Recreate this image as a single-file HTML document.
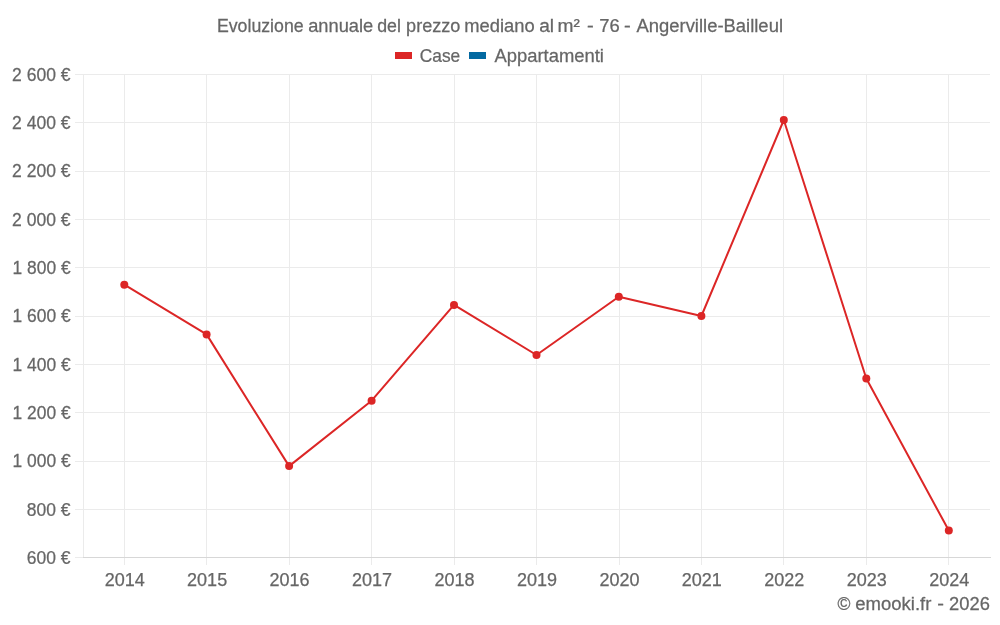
<!DOCTYPE html>
<html><head><meta charset="utf-8"><title>Evoluzione annuale del prezzo mediano al m² - 76 - Angerville-Bailleul</title>
<style>
html,body{margin:0;padding:0;background:#fff;width:1000px;height:625px;overflow:hidden}
svg{display:block;will-change:transform}
text{font-family:"Liberation Sans",sans-serif;font-size:18px;fill:#666;stroke:#666;stroke-width:0.25px}
</style></head><body>
<svg width="1000" height="625" viewBox="0 0 1000 625">
<rect width="1000" height="625" fill="#fff"/>
<path d="M75 74.5H990 M75 122.5H990 M75 171.5H990 M75 219.5H990 M75 267.5H990 M75 316.5H990 M75 364.5H990 M75 412.5H990 M75 461.5H990 M75 509.5H990 M124.5 74V565 M206.5 74V565 M289.5 74V565 M371.5 74V565 M454.5 74V565 M536.5 74V565 M619.5 74V565 M701.5 74V565 M783.5 74V565 M866.5 74V565 M948.5 74V565 M83.5 74V557" stroke="#ebebeb" stroke-width="1" fill="none" shape-rendering="crispEdges"/>
<path d="M75 557.5H83" stroke="#ebebeb" stroke-width="1" shape-rendering="crispEdges"/>
<path d="M83 557.5H991" stroke="#d7d7d7" stroke-width="1" shape-rendering="crispEdges"/>
<path d="M124.3 284.7 L206.6 334.4 L289.1 466.1 L371.6 400.7 L454.0 304.9 L536.5 355.0 L618.8 296.8 L701.4 316.0 L783.8 120.0 L866.3 378.5 L948.8 530.6" stroke="#dc2626" stroke-width="2" fill="none" stroke-linejoin="round"/>
<circle cx="124.3" cy="284.7" r="4" fill="#dc2626"/>
<circle cx="206.6" cy="334.4" r="4" fill="#dc2626"/>
<circle cx="289.1" cy="466.1" r="4" fill="#dc2626"/>
<circle cx="371.6" cy="400.7" r="4" fill="#dc2626"/>
<circle cx="454.0" cy="304.9" r="4" fill="#dc2626"/>
<circle cx="536.5" cy="355.0" r="4" fill="#dc2626"/>
<circle cx="618.8" cy="296.8" r="4" fill="#dc2626"/>
<circle cx="701.4" cy="316.0" r="4" fill="#dc2626"/>
<circle cx="783.8" cy="120.0" r="4" fill="#dc2626"/>
<circle cx="866.3" cy="378.5" r="4" fill="#dc2626"/>
<circle cx="948.8" cy="530.6" r="4" fill="#dc2626"/>
<text transform="translate(216.93 31.7) scale(0.9847 1)">Evoluzione</text>
<text transform="translate(308.18 31.7) scale(1.0161 1)">annuale</text>
<text transform="translate(377.21 31.7) scale(0.9871 1)">del</text>
<text transform="translate(406.09 31.7) scale(1.0059 1)">prezzo</text>
<text transform="translate(464.25 31.7) scale(1.0199 1)">mediano</text>
<text transform="translate(539.14 31.7) scale(1.0603 1)">al</text>
<text transform="translate(557.60 31.7) scale(1.0649 1)">m²</text>
<text transform="translate(586.99 31.7) scale(1.1200 1)">-</text>
<text transform="translate(599.17 31.7) scale(1.0226 1)">76</text>
<text transform="translate(624.06 31.7) scale(1.1200 1)">-</text>
<text transform="translate(636.43 31.7) scale(1.0245 1)">Angerville-Bailleul</text>
<text transform="translate(419.79 61.5) scale(0.9625 1)">Case</text>
<text transform="translate(494.43 61.5) scale(1.0239 1)">Appartamenti</text>
<text transform="translate(837.61 609.8) scale(0.9742 1)">©</text>
<text transform="translate(855.27 609.8) scale(1.0283 1)">emooki.fr</text>
<text transform="translate(937.34 609.8) scale(1.1200 1)">-</text>
<text transform="translate(949.08 609.8) scale(1.0184 1)">2026</text>
<text transform="translate(12.02 80.55) scale(0.9753 1)">2 600 €</text>
<text transform="translate(12.02 128.88) scale(0.9753 1)">2 400 €</text>
<text transform="translate(12.02 177.21) scale(0.9753 1)">2 200 €</text>
<text transform="translate(12.02 225.54) scale(0.9753 1)">2 000 €</text>
<text transform="translate(12.58 273.87) scale(0.9659 1)">1 800 €</text>
<text transform="translate(12.58 322.2) scale(0.9659 1)">1 600 €</text>
<text transform="translate(12.58 370.53) scale(0.9659 1)">1 400 €</text>
<text transform="translate(12.58 418.86) scale(0.9659 1)">1 200 €</text>
<text transform="translate(12.58 467.19) scale(0.9659 1)">1 000 €</text>
<text transform="translate(26.86 515.52) scale(0.9706 1)">800 €</text>
<text transform="translate(26.87 563.85) scale(0.9704 1)">600 €</text>
<text x="124.68" y="585.5" text-anchor="middle">2014</text>
<text x="207.13" y="585.5" text-anchor="middle">2015</text>
<text x="289.59" y="585.5" text-anchor="middle">2016</text>
<text x="372.04" y="585.5" text-anchor="middle">2017</text>
<text x="454.50" y="585.5" text-anchor="middle">2018</text>
<text x="536.95" y="585.5" text-anchor="middle">2019</text>
<text x="619.40" y="585.5" text-anchor="middle">2020</text>
<text x="701.86" y="585.5" text-anchor="middle">2021</text>
<text x="784.31" y="585.5" text-anchor="middle">2022</text>
<text x="866.77" y="585.5" text-anchor="middle">2023</text>
<text x="949.22" y="585.5" text-anchor="middle">2024</text>
<rect x="395" y="52" width="17" height="7" fill="#dc2626"/>
<rect x="469" y="52" width="17" height="7" fill="#0369a1"/>
</svg>
</body></html>
